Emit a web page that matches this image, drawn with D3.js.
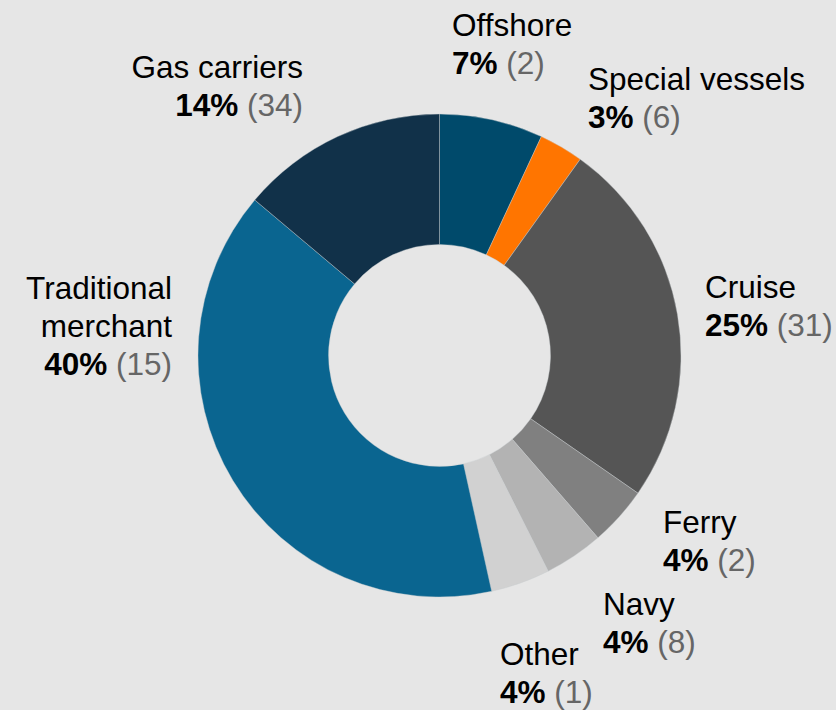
<!DOCTYPE html>
<html>
<head>
<meta charset="utf-8">
<script src="https://cdn.jsdelivr.net/npm/d3@7"></script>
<style>
  html, body { margin: 0; padding: 0; background: #e6e6e6; }
  svg { display: block; }
  text { font-family: "Liberation Sans", Arial, sans-serif; }
</style>
</head>
<body>
<svg id="chart" width="836" height="710"></svg>
<script>
// ---- data ----
const categories = ["Offshore", "Special vessels", "Cruise", "Ferry", "Navy", "Other", "Traditional merchant", "Gas carriers"];
const shares = [7, 3, 25, 4, 4, 4, 40, 14];          // percent of total
const counts = [2, 6, 31, 2, 8, 1, 15, 34];          // number in parentheses
const colors = ["#004a6b", "#ff7500", "#555555", "#808080", "#b3b3b3", "#d1d1d1", "#0a6590", "#113149"];

// ---- label layout (positions relative to chart, not data) ----
const labelLayout = [
  { anchor: "start", x: 452, y: 36,  lines: ["Offshore"] },
  { anchor: "start", x: 588, y: 90,  lines: ["Special vessels"] },
  { anchor: "start", x: 705, y: 298, lines: ["Cruise"] },
  { anchor: "start", x: 663, y: 533, lines: ["Ferry"] },
  { anchor: "start", x: 603, y: 615, lines: ["Navy"] },
  { anchor: "start", x: 500, y: 665, lines: ["Other"] },
  { anchor: "end",   x: 172, y: 299, lines: ["Traditional", "merchant"] },
  { anchor: "end",   x: 303, y: 78,  lines: ["Gas carriers"] }
];

const W = 836, H = 710;
const cx = 439.5, cy = 355.5, outerR = 241.5, innerR = 111;
const fontSize = 31.5, lineH = 38;

const svg = d3.select("#chart");
svg.append("rect").attr("width", W).attr("height", H).attr("fill", "#e6e6e6");

const data = categories.map((c, i) => ({ name: c, share: shares[i], count: counts[i], color: colors[i] }));

const pie = d3.pie().value(d => d.share).sort(null).startAngle(0).endAngle(2 * Math.PI);
const arc = d3.arc().innerRadius(innerR).outerRadius(outerR);

const g = svg.append("g").attr("transform", `translate(${cx},${cy})`);
g.selectAll("path")
  .data(pie(data))
  .join("path")
  .attr("d", arc)
  .attr("fill", d => d.data.color)
  .attr("stroke", "#c8ccd0")
  .attr("stroke-width", 0.4);

const labels = svg.append("g");
data.forEach((d, i) => {
  const L = labelLayout[i];
  const t = labels.append("text")
    .attr("text-anchor", L.anchor)
    .attr("font-size", fontSize)
    .attr("fill", "#000");
  L.lines.forEach((ln, k) => {
    t.append("tspan").attr("x", L.x).attr("y", L.y + k * lineH).text(ln);
  });
  const last = labels.append("text")
    .attr("text-anchor", L.anchor)
    .attr("font-size", fontSize)
    .attr("x", L.x)
    .attr("y", L.y + L.lines.length * lineH);
  last.append("tspan").attr("font-weight", "bold").attr("fill", "#000").text(d.share + "%");
  last.append("tspan").attr("fill", "#666666").text(" (" + d.count + ")");
});
</script>
</body>
</html>
